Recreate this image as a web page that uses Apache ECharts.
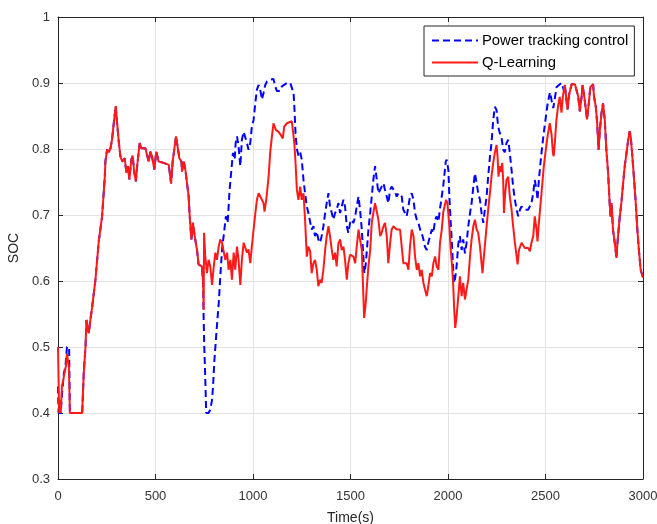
<!DOCTYPE html>
<html>
<head>
<meta charset="utf-8">
<title>SOC</title>
<script src="https://cdn.jsdelivr.net/npm/echarts@6/dist/echarts.min.js"></script>
<style>
  html, body { margin: 0; padding: 0; background: #fff; }
  #chart { width: 657px; height: 524px; }
</style>
</head>
<body>
<div id="chart"></div>
<script>
// Q-Learning SOC trajectory (time in s, SOC)
const qlTime = [0,3,6,10,14,20,27,33,40,46,52,56,61,124,132,141,146,152,158,166,175,192,209,226,240,243,252,261,269,277,286,296,303,312,320,329,342,351,359,366,376,383,390,399,407,419,428,448,457,465,474,482,491,494,504,516,542,568,580,588,605,616,622,633,636,645,653,662,670,675,684,692,701,713,721,738,744,747,749,755,764,772,781,790,798,807,815,824,832,841,850,858,867,875,884,892,901,909,918,926,935,943,952,960,969,977,986,994,1003,1012,1020,1029,1037,1046,1054,1059,1068,1080,1088,1097,1105,1110,1117,1131,1143,1153,1160,1174,1199,1207,1212,1219,1225,1233,1242,1250,1259,1267,1276,1284,1293,1301,1310,1318,1327,1335,1344,1352,1361,1370,1378,1387,1395,1404,1412,1421,1429,1438,1447,1455,1464,1472,1481,1489,1498,1506,1515,1524,1532,1541,1549,1558,1563,1570,1578,1584,1592,1601,1609,1617,1626,1635,1643,1652,1660,1669,1677,1686,1694,1703,1711,1720,1737,1754,1763,1771,1780,1788,1797,1805,1814,1823,1831,1840,1848,1857,1865,1874,1882,1891,1899,1908,1917,1925,1934,1942,1951,1959,1968,1976,1990,1997,2007,2014,2021,2027,2032,2037,2044,2053,2061,2070,2078,2087,2095,2104,2113,2121,2130,2138,2147,2155,2164,2172,2177,2184,2198,2206,2215,2223,2232,2240,2249,2254,2259,2264,2271,2278,2283,2287,2292,2300,2309,2317,2326,2334,2343,2352,2357,2364,2377,2394,2411,2420,2428,2437,2445,2454,2459,2466,2474,2483,2491,2502,2511,2522,2531,2538,2542,2548,2556,2565,2573,2582,2587,2594,2599,2608,2613,2622,2634,2651,2659,2668,2676,2685,2690,2699,2707,2713,2722,2730,2744,2749,2758,2765,2772,2779,2787,2795,2804,2812,2821,2829,2834,2839,2846,2855,2864,2869,2881,2889,2898,2906,2915,2924,2932,2937,2944,2953,2963,2971,2979,2988,3000];
const qlSoc = [0.50,0.45,0.40,0.42,0.40,0.44,0.45,0.46,0.47,0.49,0.49,0.47,0.40,0.40,0.46,0.50,0.541,0.53,0.521,0.541,0.56,0.602,0.66,0.698,0.758,0.781,0.799,0.795,0.801,0.814,0.839,0.865,0.84,0.81,0.789,0.781,0.786,0.764,0.774,0.754,0.784,0.79,0.767,0.751,0.777,0.809,0.801,0.801,0.804,0.781,0.796,0.789,0.774,0.769,0.796,0.781,0.779,0.776,0.748,0.781,0.819,0.799,0.786,0.781,0.766,0.781,0.769,0.771,0.728,0.70,0.663,0.688,0.668,0.647,0.625,0.622,0.599,0.556,0.673,0.638,0.612,0.632,0.622,0.594,0.62,0.643,0.632,0.652,0.663,0.658,0.66,0.632,0.643,0.617,0.632,0.602,0.643,0.617,0.652,0.632,0.594,0.632,0.658,0.66,0.643,0.648,0.627,0.652,0.678,0.703,0.723,0.733,0.728,0.723,0.718,0.705,0.723,0.758,0.794,0.819,0.839,0.842,0.829,0.826,0.821,0.816,0.834,0.839,0.842,0.839,0.809,0.774,0.738,0.723,0.743,0.723,0.733,0.693,0.637,0.652,0.645,0.612,0.627,0.632,0.617,0.592,0.602,0.597,0.617,0.647,0.668,0.683,0.668,0.647,0.632,0.643,0.622,0.657,0.663,0.647,0.652,0.632,0.602,0.627,0.64,0.637,0.637,0.627,0.652,0.678,0.663,0.647,0.602,0.544,0.566,0.592,0.622,0.647,0.688,0.703,0.718,0.705,0.693,0.668,0.673,0.683,0.688,0.668,0.627,0.657,0.678,0.683,0.678,0.678,0.676,0.627,0.625,0.627,0.617,0.652,0.678,0.668,0.637,0.617,0.627,0.607,0.617,0.597,0.587,0.577,0.592,0.612,0.607,0.627,0.637,0.622,0.617,0.658,0.678,0.705,0.723,0.718,0.683,0.647,0.622,0.592,0.556,0.529,0.546,0.577,0.607,0.577,0.597,0.572,0.587,0.602,0.638,0.663,0.683,0.693,0.678,0.673,0.652,0.627,0.612,0.637,0.683,0.708,0.733,0.758,0.779,0.794,0.806,0.789,0.758,0.774,0.765,0.779,0.753,0.703,0.728,0.753,0.758,0.728,0.708,0.683,0.658,0.637,0.625,0.647,0.658,0.65,0.65,0.645,0.658,0.668,0.698,0.678,0.66,0.688,0.715,0.745,0.773,0.80,0.82,0.839,0.822,0.794,0.789,0.81,0.844,0.866,0.879,0.855,0.874,0.889,0.897,0.895,0.86,0.884,0.898,0.898,0.898,0.879,0.857,0.879,0.897,0.879,0.86,0.845,0.869,0.894,0.898,0.879,0.864,0.839,0.799,0.829,0.854,0.869,0.844,0.799,0.764,0.718,0.698,0.718,0.678,0.658,0.635,0.658,0.698,0.718,0.748,0.773,0.793,0.814,0.827,0.819,0.794,0.759,0.718,0.678,0.647,0.617,0.605];

// Power tracking control: its own start-up segment
const ptStartTime = [0,3,14,21,30,38,46,57,61];
const ptStartSoc  = [0.44,0.40,0.40,0.43,0.46,0.47,0.50,0.50,0.40];

// Power tracking control: segment where it departs from Q-Learning
const ptMidTime = [747,750,755,760,772,781,790,795,802,812,825,834,842,851,861,870,880,889,897,906,911,918,926,935,943,952,960,969,977,986,994,1003,1012,1020,1029,1037,1046,1054,1063,1071,1088,1105,1114,1122,1131,1139,1148,1156,1174,1191,1199,1208,1213,1218,1225,1233,1242,1250,1259,1267,1276,1284,1293,1301,1310,1318,1327,1335,1344,1352,1361,1370,1378,1387,1395,1404,1412,1421,1429,1438,1447,1455,1464,1472,1481,1489,1498,1506,1515,1524,1532,1541,1549,1558,1566,1571,1578,1584,1592,1601,1609,1617,1626,1635,1643,1652,1660,1669,1677,1686,1694,1703,1711,1720,1728,1737,1746,1754,1763,1771,1780,1788,1797,1805,1814,1823,1831,1840,1848,1857,1865,1874,1882,1891,1899,1908,1917,1925,1934,1942,1951,1959,1968,1976,1988,1993,2002,2007,2014,2021,2027,2032,2037,2044,2053,2061,2070,2078,2087,2095,2104,2113,2121,2130,2138,2147,2155,2164,2172,2181,2189,2198,2206,2215,2223,2232,2240,2249,2257,2266,2274,2283,2291,2300,2309,2317,2326,2334,2343,2352,2360,2369,2377,2394,2411,2420,2428,2437,2445,2454,2459,2466,2474,2483,2491,2502,2511,2523,2531,2540,2549,2557,2566,2582];
const ptMidSoc  = [0.541,0.501,0.455,0.40,0.40,0.405,0.42,0.44,0.48,0.52,0.57,0.615,0.65,0.672,0.698,0.688,0.738,0.768,0.794,0.784,0.809,0.819,0.804,0.774,0.814,0.826,0.829,0.809,0.799,0.809,0.834,0.844,0.87,0.89,0.897,0.89,0.875,0.885,0.897,0.902,0.905,0.906,0.895,0.888,0.886,0.888,0.895,0.897,0.90,0.90,0.899,0.885,0.859,0.824,0.80,0.79,0.795,0.784,0.753,0.733,0.713,0.703,0.705,0.678,0.683,0.668,0.675,0.663,0.658,0.668,0.683,0.703,0.718,0.733,0.713,0.703,0.693,0.703,0.708,0.718,0.703,0.713,0.723,0.713,0.683,0.673,0.688,0.693,0.688,0.698,0.713,0.728,0.708,0.678,0.637,0.612,0.625,0.647,0.678,0.703,0.728,0.753,0.774,0.753,0.733,0.73,0.743,0.748,0.738,0.728,0.718,0.738,0.743,0.741,0.735,0.728,0.733,0.733,0.728,0.708,0.703,0.698,0.713,0.728,0.733,0.723,0.703,0.693,0.688,0.678,0.673,0.663,0.652,0.647,0.658,0.668,0.678,0.673,0.693,0.698,0.69,0.71,0.728,0.745,0.78,0.784,0.768,0.728,0.688,0.652,0.617,0.597,0.605,0.622,0.657,0.668,0.647,0.663,0.642,0.657,0.683,0.703,0.718,0.743,0.763,0.748,0.733,0.723,0.703,0.688,0.708,0.728,0.758,0.788,0.809,0.844,0.864,0.859,0.834,0.824,0.819,0.799,0.795,0.809,0.814,0.794,0.768,0.743,0.723,0.708,0.698,0.708,0.713,0.708,0.708,0.708,0.718,0.733,0.753,0.738,0.723,0.753,0.778,0.804,0.824,0.849,0.869,0.886,0.874,0.862,0.879,0.894,0.897,0.90];

const xTicks = { min: 0, max: 3000, step: 500 };
const yTicks = { min: 0.3, max: 1, step: 0.1 };

const pair = (ts, vs) => ts.map((t, i) => [t, vs[i]]);
const qlData = pair(qlTime, qlSoc);

// The two strategies share the same trajectory outside the start-up and mid segments
const ptData = []
  .concat(pair(ptStartTime, ptStartSoc))
  .concat(qlData.filter(p => p[0] > 61 && p[0] <= 744))
  .concat(pair(ptMidTime, ptMidSoc))
  .concat(qlData.filter(p => p[0] >= 2594));

const FONT = '"Liberation Sans", Arial, Helvetica, sans-serif';
const AX = '#262626';

const frameAxis = (extra) => Object.assign({
  type: 'value',
  axisLine: { show: true, onZero: false, lineStyle: { color: AX, width: 1 } },
  axisTick: { show: true, inside: true, length: 5, lineStyle: { color: AX } },
  splitLine: { show: false },
  axisLabel: { show: false }
}, extra);

const chart = echarts.init(document.getElementById('chart'), null, { renderer: 'canvas' });
chart.setOption({
  animation: false,
  backgroundColor: '#ffffff',
  textStyle: { fontFamily: FONT },
  grid: { left: 58, right: 14, top: 17, bottom: 45, containLabel: false, outerBoundsMode: 'none' },
  legend: {
    orient: 'vertical',
    left: 424, top: 26,
    padding: [7, 6, 6, 7],
    itemGap: 7,
    itemWidth: 46, itemHeight: 14,
    itemStyle: { opacity: 0 },
    backgroundColor: '#ffffff',
    borderColor: AX, borderWidth: 1, borderRadius: 0,
    textStyle: { fontFamily: FONT, fontSize: 14.8, color: '#000', padding: [0, 0, 0, -1] },
    data: ['Power tracking control', 'Q-Learning']
  },
  xAxis: [
    frameAxis({
      position: 'bottom',
      min: xTicks.min, max: xTicks.max, interval: xTicks.step,
      name: 'Time(s)', nameLocation: 'middle', nameGap: 32,
      nameTextStyle: { fontFamily: FONT, fontSize: 14, color: AX },
      axisLabel: { show: true, fontFamily: FONT, fontSize: 13, color: '#333', margin: 11,
                   formatter: v => String(v) },
      splitLine: { show: true, lineStyle: { color: '#e3e3e3', width: 1 } }
    }),
    frameAxis({ position: 'top', min: xTicks.min, max: xTicks.max, interval: xTicks.step })
  ],
  yAxis: [
    frameAxis({
      position: 'left',
      min: yTicks.min, max: yTicks.max, interval: yTicks.step,
      name: 'SOC', nameLocation: 'middle', nameGap: 25, nameRotate: 90,
      nameTextStyle: { fontFamily: FONT, fontSize: 14, color: AX },
      axisLabel: { show: true, fontFamily: FONT, fontSize: 13, color: '#333', margin: 8 },
      splitLine: { show: true, lineStyle: { color: '#e3e3e3', width: 1 } }
    }),
    frameAxis({ position: 'right', min: yTicks.min, max: yTicks.max, interval: yTicks.step })
  ],
  series: [
    {
      name: 'Power tracking control',
      type: 'line',
      data: ptData,
      xAxisIndex: 0, yAxisIndex: 0,
      symbol: 'none',
      lineStyle: { color: '#0000ff', width: 2, type: [7, 4] },
      itemStyle: { color: '#0000ff' },
      z: 2
    },
    {
      name: 'Q-Learning',
      type: 'line',
      data: qlData,
      xAxisIndex: 0, yAxisIndex: 0,
      symbol: 'none',
      lineStyle: { color: '#ff1a1a', width: 2 },
      itemStyle: { color: '#ff1a1a' },
      z: 3
    }
  ]
});
</script>
</body>
</html>
